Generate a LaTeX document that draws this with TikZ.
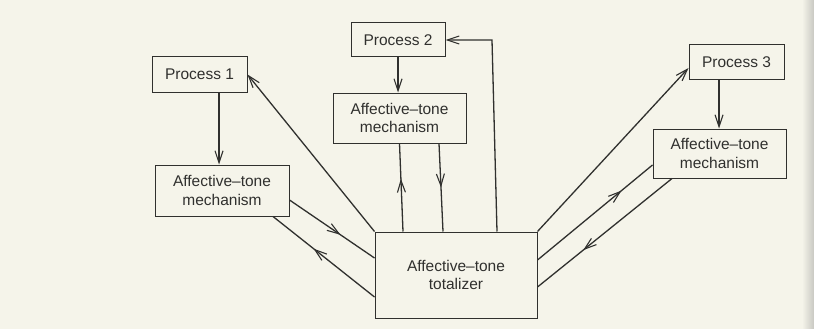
\documentclass[tikz,border=0pt]{standalone}
\usepackage{fontspec}
\setmainfont{Liberation Sans}
\usetikzlibrary{arrows.meta,decorations.markings}
\definecolor{paper}{RGB}{245,244,234}
\definecolor{ink}{RGB}{48,48,46}
\definecolor{edge}{RGB}{200,200,194}
\tikzset{
  box/.style={draw=ink,line width=1pt,inner sep=0pt,align=center,text=ink,
    font=\fontsize{15.5}{18.5}\selectfont},
  conn/.style={draw=ink,line width=1.3pt},
  tip/.style={-{Straight Barb[length=12pt,width=8pt,line width=1.1pt]}},
  midarrow/.style={postaction={decorate},decoration={markings,
    mark=at position #1 with {\arrow{Straight Barb[length=12pt,width=8pt,line width=1.1pt]}}}}
}
\begin{document}
\begin{tikzpicture}[x=1pt,y=-1pt]
\useasboundingbox (0,0) rectangle (814,329);
\fill[paper] (0,0) rectangle (814,329);
\shade[left color=paper,right color=edge] (802,0) rectangle (814,329);
% nodes
\node[box,minimum width=95pt,minimum height=35pt] (p1) at (199.5,74.5) {Process 1};
\node[box,minimum width=134pt,minimum height=51pt] (m1) at (222,190.5) {Affective–tone\\mechanism};
\node[box,minimum width=94pt,minimum height=34pt] (p2) at (398,40) {Process 2};
\node[box,minimum width=133pt,minimum height=50pt] (m2) at (399.5,118) {Affective–tone\\mechanism};
\node[box,minimum width=95pt,minimum height=35pt] (p3) at (736.5,62.5) {Process 3};
\node[box,minimum width=133pt,minimum height=49pt] (m3) at (719.5,153.5) {Affective–tone\\mechanism};
\node[box,minimum width=162pt,minimum height=86pt] (tot) at (456,275) {Affective–tone\\totalizer};
\coordinate (bend) at ([xshift=36pt]tot.north |- p2.east);
% process to mechanism
\draw[conn,tip] ([xshift=-3pt]m1.north |- p1.south) -- ([xshift=-3pt]m1.north);
\draw[conn,tip] (p2.south) -- (p2.south |- m2.north);
\draw[conn,tip] ([xshift=-0.5pt]m3.north |- p3.south) -- ([xshift=-0.5pt]m3.north);
% left side
\draw[conn,tip] (tot.north west) -- (p1.east);
\draw[conn,midarrow=0.6] ([yshift=-9.5pt]m1.east) -- ([yshift=17pt]tot.west);
\draw[conn,midarrow=0.6] ([yshift=-22pt]tot.west) -- ([xshift=51pt]m1.south);
% centre
\draw[conn,midarrow=0.6] ([xshift=-53pt]tot.north) -- (m2.south);
\draw[conn,midarrow=0.5] ([xshift=39.5pt]m2.south) -- ([xshift=-13pt]tot.north);
\draw[conn,tip] ([xshift=41pt]tot.north) -- (bend) -- (p2.east);
% right side
\draw[conn,tip] (tot.north east) -- ([yshift=-5.5pt]p3.west);
\draw[conn,midarrow=0.73] ([yshift=15pt]tot.east) -- ([yshift=-11.5pt]m3.west);
\draw[conn,midarrow=0.66] ([xshift=-47.5pt]m3.south) -- ([yshift=-12pt]tot.east);
\end{tikzpicture}
\end{document}
